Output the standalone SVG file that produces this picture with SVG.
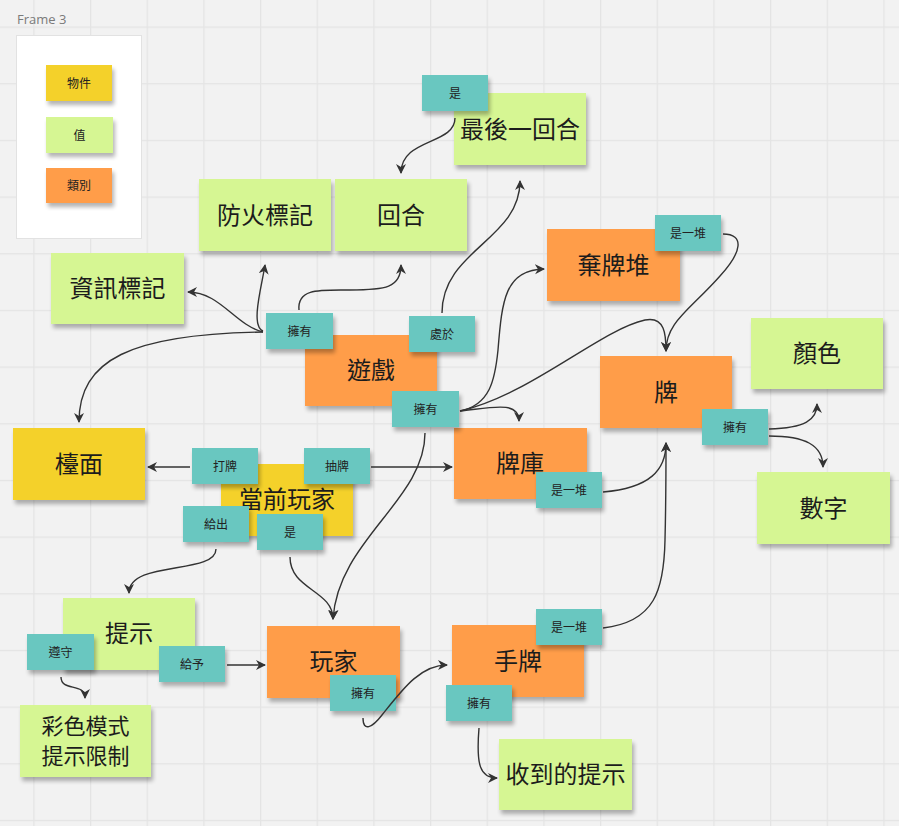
<svg xmlns="http://www.w3.org/2000/svg" width="899" height="826" viewBox="0 0 899 826">
<defs>
<pattern id="grid" x="33.3" y="26.5" width="56.67" height="56.67" patternUnits="userSpaceOnUse">
<path d="M0.5,0 V56.67 M0,0.5 H56.67" fill="none" stroke="#e4e4e4" stroke-width="1.5"/>
</pattern>
<filter id="sh" x="-10%" y="-10%" width="120%" height="140%">
<feGaussianBlur in="SourceAlpha" stdDeviation="2"/>
<feOffset dx="2" dy="4"/>
<feComponentTransfer><feFuncA type="linear" slope="0.3"/></feComponentTransfer>
<feMerge><feMergeNode/><feMergeNode in="SourceGraphic"/></feMerge>
</filter>
<marker id="arr" markerUnits="userSpaceOnUse" markerWidth="12" markerHeight="12" refX="9" refY="5" orient="auto">
<path d="M0,0 L10,5 L0,10 L3,5 z" fill="#333"/>
</marker>
</defs>
<style>
.g{fill:#d6f693}
.y{fill:#f4d12c}
.o{fill:#ff9d48}
.t{fill:#69c7c0}
.big{font-family:"Noto Sans CJK TC","Noto Sans CJK SC",sans-serif;font-size:24px;fill:#1c1c1c;text-anchor:middle;dominant-baseline:central}
.lbl{font-family:"Noto Sans CJK TC","Noto Sans CJK SC",sans-serif;font-size:12px;fill:#222;text-anchor:middle;dominant-baseline:central}
.c path{fill:none;stroke:#333;stroke-width:1.4;marker-end:url(#arr)}
</style>
<rect width="899" height="826" fill="#f2f2f2"/>
<rect width="899" height="826" fill="url(#grid)"/>

<g id="legend">
<text x="17" y="24" font-family="Open Sans, sans-serif" font-size="13" fill="#7a7a7a">Frame 3</text>
<rect x="16.5" y="35.5" width="125" height="203" fill="#ffffff" stroke="#e2e2e2"/>
<g id="legend-object"><rect class="y" x="46" y="65" width="66" height="36" filter="url(#sh)"/><text class="lbl" x="79" y="82" font-size="11">物件</text></g>
<g id="legend-value"><rect class="g" x="46" y="117" width="67" height="36" filter="url(#sh)"/><text class="lbl" x="79.5" y="134" font-size="11">值</text></g>
<g id="legend-class"><rect class="o" x="46" y="168" width="66" height="35" filter="url(#sh)"/><text class="lbl" x="79" y="184.5" font-size="11">類別</text></g>
</g>

<g id="n-last-round"><rect class="g" x="454" y="93" width="132" height="72" filter="url(#sh)"/><text class="big" x="520" y="127">最後一回合</text></g>
<g id="n-fire"><rect class="g" x="199" y="179" width="132" height="72" filter="url(#sh)"/><text class="big" x="265" y="213">防火標記</text></g>
<g id="n-round"><rect class="g" x="335" y="179" width="132" height="72" filter="url(#sh)"/><text class="big" x="401" y="213">回合</text></g>
<g id="n-info"><rect class="g" x="51" y="253" width="133" height="71" filter="url(#sh)"/><text class="big" x="117.5" y="286.5">資訊標記</text></g>
<g id="n-game"><rect class="o" x="305" y="335" width="132" height="71" filter="url(#sh)"/><text class="big" x="371" y="368.5">遊戲</text></g>
<g id="n-discard"><rect class="o" x="547" y="229" width="133" height="72" filter="url(#sh)"/><text class="big" x="613.5" y="263">棄牌堆</text></g>
<g id="n-card"><rect class="o" x="600" y="356" width="132" height="72" filter="url(#sh)"/><text class="big" x="666" y="390">牌</text></g>
<g id="n-color"><rect class="g" x="751" y="318" width="132" height="71" filter="url(#sh)"/><text class="big" x="817" y="351.5">顏色</text></g>
<g id="n-number"><rect class="g" x="757" y="472" width="133" height="72" filter="url(#sh)"/><text class="big" x="823.5" y="506">數字</text></g>
<g id="n-deck"><rect class="o" x="454" y="428" width="133" height="71" filter="url(#sh)"/><text class="big" x="520" y="461">牌庫</text></g>
<g id="n-table"><rect class="y" x="13" y="428" width="132" height="72" filter="url(#sh)"/><text class="big" x="79" y="462">檯面</text></g>
<g id="n-current"><rect class="y" x="221" y="464" width="132" height="72" filter="url(#sh)"/><text class="big" x="287" y="497">當前玩家</text></g>
<g id="n-hint"><rect class="g" x="63" y="598" width="132" height="72" filter="url(#sh)"/><text class="big" x="129" y="631">提示</text></g>
<g id="n-player"><rect class="o" x="267" y="626" width="133" height="72" filter="url(#sh)"/><text class="big" x="333.5" y="659">玩家</text></g>
<g id="n-rainbow"><rect class="g" x="20" y="705" width="131" height="72" filter="url(#sh)"/><text class="big" style="font-size:22px"><tspan x="85.5" y="724">彩色模式</tspan><tspan x="85.5" y="754">提示限制</tspan></text></g>
<g id="n-hand"><rect class="o" x="452" y="625" width="132" height="72" filter="url(#sh)"/><text class="big" x="518" y="659">手牌</text></g>
<g id="n-received"><rect class="g" x="499" y="739" width="133" height="71" filter="url(#sh)"/><text class="big" x="565.5" y="772.5">收到的提示</text></g>

<g id="l-is-last"><rect class="t" x="422" y="75" width="66" height="36" filter="url(#sh)"/><text class="lbl" x="455" y="92">是</text></g>
<g id="l-game-has1"><rect class="t" x="266" y="313" width="67" height="36" filter="url(#sh)"/><text class="lbl" x="299.5" y="330">擁有</text></g>
<g id="l-game-in"><rect class="t" x="409" y="316" width="66" height="36" filter="url(#sh)"/><text class="lbl" x="442" y="333">處於</text></g>
<g id="l-game-has2"><rect class="t" x="392" y="391" width="67" height="36" filter="url(#sh)"/><text class="lbl" x="425.5" y="408">擁有</text></g>
<g id="l-discard-pile"><rect class="t" x="655" y="215" width="66" height="36" filter="url(#sh)"/><text class="lbl" x="688" y="232">是一堆</text></g>
<g id="l-card-has"><rect class="t" x="702" y="409" width="66" height="36" filter="url(#sh)"/><text class="lbl" x="735" y="426">擁有</text></g>
<g id="l-deck-pile"><rect class="t" x="536" y="472" width="66" height="36" filter="url(#sh)"/><text class="lbl" x="569" y="489">是一堆</text></g>
<g id="l-play"><rect class="t" x="192" y="448" width="66" height="36" filter="url(#sh)"/><text class="lbl" x="225" y="465">打牌</text></g>
<g id="l-draw"><rect class="t" x="304" y="448" width="66" height="36" filter="url(#sh)"/><text class="lbl" x="337" y="465">抽牌</text></g>
<g id="l-give"><rect class="t" x="183" y="506" width="66" height="36" filter="url(#sh)"/><text class="lbl" x="216" y="523">給出</text></g>
<g id="l-is-player"><rect class="t" x="257" y="514" width="66" height="36" filter="url(#sh)"/><text class="lbl" x="290" y="531">是</text></g>
<g id="l-obey"><rect class="t" x="27" y="634" width="67" height="36" filter="url(#sh)"/><text class="lbl" x="60.5" y="651">遵守</text></g>
<g id="l-give-to"><rect class="t" x="159" y="646" width="66" height="36" filter="url(#sh)"/><text class="lbl" x="192" y="663">給予</text></g>
<g id="l-player-has"><rect class="t" x="330" y="675" width="66" height="36" filter="url(#sh)"/><text class="lbl" x="363" y="692">擁有</text></g>
<g id="l-hand-pile"><rect class="t" x="536" y="609" width="66" height="36" filter="url(#sh)"/><text class="lbl" x="569" y="626">是一堆</text></g>
<g id="l-hand-has"><rect class="t" x="446" y="685" width="66" height="36" filter="url(#sh)"/><text class="lbl" x="479" y="702">擁有</text></g>

<g id="connectors" class="c">
<path d="M455,118 C455,145 401,138 401,173"/>
<path d="M299,310 C297,288 320,290 350,290 C385,290 401,288 401,265"/>
<path d="M263,331 C250,326 262,285 265,265"/>
<path d="M263,332 C235,325 220,292 188,292"/>
<path d="M263,332 C130,334 79,360 79,422"/>
<path d="M442,313 C442,250 520,240 520,181"/>
<path d="M460,411 C490,405 495,380 498,350 C502,300 505,270 544,269"/>
<path d="M460,411 C530,395 600,330 645,320 C665,316 666,335 666,351"/>
<path d="M460,411 C490,408 519,400 519,421"/>
<path d="M425,433 C425,500 338,540 333,619"/>
<path d="M290,557 C290,590 333,590 333,619"/>
<path d="M190,467 L148,467"/>
<path d="M371,467 L452,467"/>
<path d="M216,549 C216,575 129,560 129,593"/>
<path d="M227,665 L265,665"/>
<path d="M61,677 C61,692 85,682 85,698"/>
<path d="M363,718 C363,732 372,728 382,715 C402,690 420,665 447,665"/>
<path d="M479,728 C476,765 480,778 497,778"/>
<path d="M603,492 C650,488 666,470 666,443"/>
<path d="M603,628 C655,622 664,590 665,540 C666,500 666,470 666,443"/>
<path d="M723,234 C745,234 742,252 720,276 C690,310 666,322 666,351"/>
<path d="M769,429 C805,428 817,420 817,404"/>
<path d="M769,436 C805,436 823,445 823,467"/>
</g>
</svg>
